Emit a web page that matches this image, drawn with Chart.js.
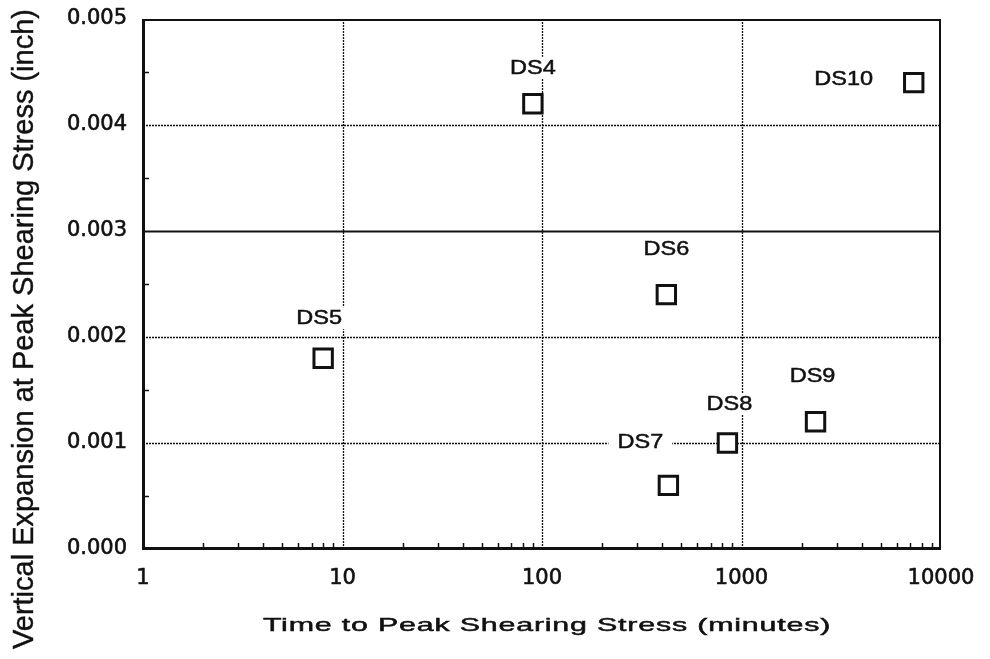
<!DOCTYPE html>
<html>
<head>
<meta charset="utf-8">
<script src="https://cdn.jsdelivr.net/npm/chart.js@4.4.0/dist/chart.umd.min.js"></script>
<style>
  html, body { margin: 0; padding: 0; background: #fff; }
  canvas { display: block; }
</style>
</head>
<body>
<canvas id="c" width="990" height="659"></canvas>
<script>
// Direct-shear specimens: time to peak shearing stress vs. vertical expansion at peak
const specimens = ['DS4', 'DS5', 'DS6', 'DS7', 'DS8', 'DS9', 'DS10'];
const timeToPeak = [90, 8, 420, 430, 850, 2350, 7300];           // minutes
const verticalExpansion = [0.0042, 0.0018, 0.0024, 0.0006, 0.0010, 0.0012, 0.0044]; // inch

const xMajorTicks = [1, 10, 100, 1000, 10000];
const yMajorTicks = [0.000, 0.001, 0.002, 0.003, 0.004, 0.005];
const yMinorTicks = [0.0005, 0.0015, 0.0025, 0.0035, 0.0045];

const xTitle = 'Time to Peak Shearing Stress (minutes)';
const yTitle = 'Vertical Expansion at Peak Shearing Stress (inch)';

const INK = '#111';
const SANS = '"Liberation Sans", Arial, Helvetica, sans-serif';
const TICK_FONT = { family: '"DejaVu Sans", sans-serif', size: 21 };

// where each specimen label sits relative to its marker, in pixels
const labelOffsets = {
  DS4: [0, -36], DS5: [-4, -40], DS6: [0, -45], DS7: [-28, -43],
  DS8: [2, -39], DS9: [-3, -46], DS10: [-70, -3]
};

// filled text with a hairline outline for a heavier stroke
function inkText(ctx, text, weight) {
  ctx.fillText(text, 0, 0);
  ctx.lineWidth = weight;
  ctx.strokeStyle = INK;
  ctx.strokeText(text, 0, 0);
}

const framePlugin = {
  id: 'frame',
  beforeDatasetsDraw(chart) {
    const { ctx, chartArea: a, scales: { x, y } } = chart;
    ctx.save();
    ctx.strokeStyle = INK;

    // horizontal grid lines (0.003 drawn solid)
    yMajorTicks.forEach(v => {
      if (v <= 0 || v >= 0.005) return;
      const py = Math.round(y.getPixelForValue(v)) + 0.5;
      if (v === 0.003) { ctx.setLineDash([]); ctx.lineWidth = 2; }
      else { ctx.setLineDash([2, 1]); ctx.lineWidth = 1.3; }
      ctx.beginPath(); ctx.moveTo(a.left, py); ctx.lineTo(a.right, py); ctx.stroke();
    });

    // vertical grid lines at inner decades
    ctx.setLineDash([2, 1]); ctx.lineWidth = 1.3;
    xMajorTicks.forEach(v => {
      if (v <= 1 || v >= 10000) return;
      const px = Math.round(x.getPixelForValue(v)) + 0.5;
      ctx.beginPath(); ctx.moveTo(px, a.top); ctx.lineTo(px, a.bottom); ctx.stroke();
    });

    // inward minor ticks
    ctx.setLineDash([]); ctx.lineWidth = 1.5;
    for (let d = 1; d < 10000; d *= 10) {
      for (let k = 2; k <= 9; k++) {
        const px = Math.round(x.getPixelForValue(k * d)) + 0.5;
        ctx.beginPath(); ctx.moveTo(px, a.bottom); ctx.lineTo(px, a.bottom - 6); ctx.stroke();
      }
    }
    yMinorTicks.forEach(v => {
      const py = Math.round(y.getPixelForValue(v)) + 0.5;
      ctx.beginPath(); ctx.moveTo(a.left, py); ctx.lineTo(a.left + 6, py); ctx.stroke();
    });

    // plot frame
    ctx.lineWidth = 2;
    ctx.beginPath();
    ctx.moveTo(a.left, a.top + 1); ctx.lineTo(a.right - 1, a.top + 1); ctx.lineTo(a.right - 1, a.bottom);
    ctx.stroke();
    ctx.lineWidth = 3;
    ctx.beginPath();
    ctx.moveTo(a.left + 0.5, a.top); ctx.lineTo(a.left + 0.5, a.bottom - 0.5); ctx.lineTo(a.right, a.bottom - 0.5);
    ctx.stroke();

    // specimen labels on white backing so grid lines break around them
    const meta = chart.getDatasetMeta(0);
    ctx.font = `21px ${SANS}`;
    ctx.textAlign = 'center';
    ctx.textBaseline = 'middle';
    specimens.forEach((name, i) => {
      const pt = meta.data[i];
      const [dx, dy] = labelOffsets[name];
      const tx = pt.x + dx, ty = pt.y + dy;
      const w = ctx.measureText(name).width * 1.12;
      ctx.fillStyle = '#fff';
      ctx.fillRect(tx - w / 2 - 9, ty - 11, w + 18, 22);
      ctx.fillStyle = INK;
      ctx.save();
      ctx.translate(tx, ty);
      ctx.scale(1.12, 1);
      inkText(ctx, name, 0.5);
      ctx.restore();
    });
    ctx.restore();
  },
  afterDraw(chart) {
    const { ctx, chartArea: a } = chart;
    ctx.save();
    ctx.fillStyle = INK;
    ctx.textAlign = 'center';
    ctx.textBaseline = 'middle';

    // x-axis title: wide lettering
    ctx.save();
    ctx.font = `19px ${SANS}`;
    ctx.letterSpacing = '0.5px';
    ctx.translate((a.left + a.right) / 2 + 5, 626);
    ctx.scale(1.6, 1);
    inkText(ctx, xTitle, 0.5);
    ctx.restore();

    // y-axis title, rotated
    ctx.save();
    ctx.font = `29px ${SANS}`;
    ctx.translate(25, 329);
    ctx.rotate(-Math.PI / 2);
    inkText(ctx, yTitle, 0.4);
    ctx.restore();

    ctx.restore();
  }
};

// keep the plot area anchored to the layout padding, not to tick-label overhang
const noOverhang = s => { s.paddingTop = 0; s.paddingBottom = 0; s.paddingLeft = 0; s.paddingRight = 0; };

new Chart(document.getElementById('c'), {
  type: 'scatter',
  data: {
    datasets: [{
      data: timeToPeak.map((t, i) => ({ x: t, y: verticalExpansion[i] })),
      pointStyle: 'rect',
      pointRadius: 13,
      pointBorderWidth: 3,
      pointBackgroundColor: '#fff',
      pointBorderColor: INK
    }]
  },
  options: {
    responsive: false,
    devicePixelRatio: 1,
    animation: false,
    events: [],
    layout: { padding: { top: 19, right: 49, left: 0, bottom: 0 } },
    plugins: { legend: { display: false }, tooltip: { enabled: false } },
    scales: {
      x: {
        type: 'logarithmic',
        min: 1, max: 10000,
        afterBuildTicks: s => { s.ticks = xMajorTicks.map(v => ({ value: v })); },
        afterFit: s => { s.height = 110; noOverhang(s); },
        grid: { display: false, drawTicks: false },
        border: { display: false },
        ticks: {
          autoSkip: false, maxRotation: 0, padding: 17,
          color: INK, font: TICK_FONT,
          textStrokeColor: INK, textStrokeWidth: 0.6,
          callback: v => String(v)
        },
        title: { display: false }
      },
      y: {
        min: 0, max: 0.005,
        afterBuildTicks: s => { s.ticks = yMajorTicks.map(v => ({ value: v })); },
        afterFit: s => { s.width = 143; noOverhang(s); },
        grid: { display: false, drawTicks: false },
        border: { display: false },
        ticks: {
          padding: 16, color: INK, font: TICK_FONT,
          textStrokeColor: INK, textStrokeWidth: 0.6,
          callback: v => v.toFixed(3)
        },
        title: { display: false }
      }
    }
  },
  plugins: [framePlugin]
});
</script>
</body>
</html>
